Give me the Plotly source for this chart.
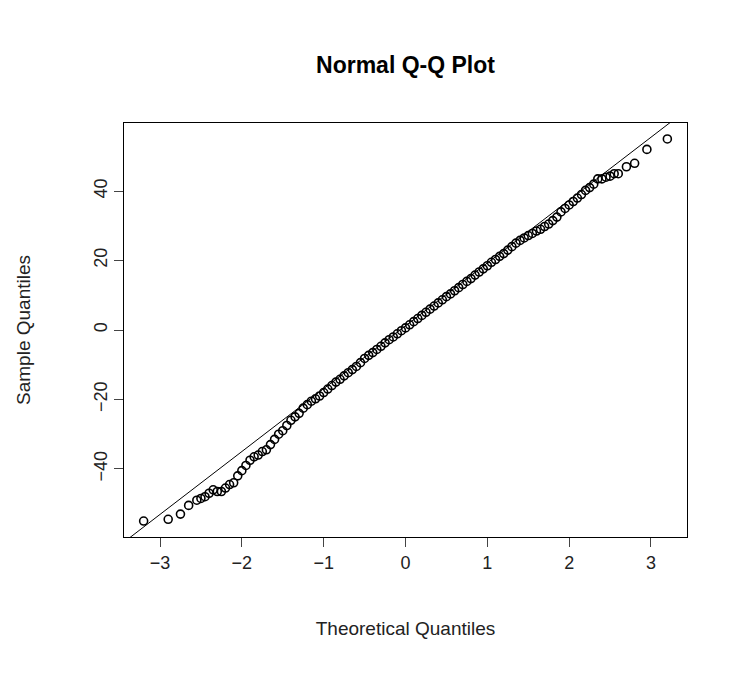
import plotly.graph_objects as go

theoretical = [-3.2, -2.9, -2.75, -2.65, -2.55, -2.5, -2.45, -2.4, -2.35, -2.3, -2.25, -2.2, -2.15, -2.1,
               -2.05, -2.0, -1.95, -1.9, -1.85, -1.8, -1.75, -1.7, -1.65, -1.6, -1.55, -1.5, -1.45, -1.4,
               -1.35, -1.3, -1.25, -1.2, -1.15, -1.1, -1.05, -1.0, -0.95, -0.9, -0.85, -0.8, -0.75, -0.7,
               -0.65, -0.6, -0.55, -0.5, -0.45, -0.4, -0.35, -0.3, -0.25, -0.2, -0.15, -0.1, -0.05, 0.0,
               0.05, 0.1, 0.15, 0.2, 0.25, 0.3, 0.35, 0.4, 0.45, 0.5, 0.55, 0.6, 0.65, 0.7, 0.75, 0.8,
               0.85, 0.9, 0.95, 1.0, 1.05, 1.1, 1.15, 1.2, 1.25, 1.3, 1.35, 1.4, 1.45, 1.5, 1.55, 1.6,
               1.65, 1.7, 1.75, 1.8, 1.85, 1.9, 1.95, 2.0, 2.05, 2.1, 2.15, 2.2, 2.25, 2.3, 2.35, 2.4,
               2.45, 2.5, 2.55, 2.6, 2.7, 2.8, 2.95, 3.2]
sample = [-55, -54.5, -53, -50.5, -49, -48.5, -48, -47, -46, -46.5, -46.5, -45.5, -44.5, -44,
          -42, -40.5, -39, -37.5, -36.5, -36, -35, -34.5, -33, -31.5, -30, -29, -27.5, -26,
          -25, -24, -22.5, -21.5, -20.5, -19.8, -19, -18, -17, -16, -15, -14.2, -13.2, -12.3,
          -11.4, -10.5, -9.4, -8.2, -7.3, -6.5, -5.6, -4.7, -3.7, -2.8, -2.0, -1.1, -0.2, 0.6,
          1.5, 2.4, 3.3, 4.2, 5.1, 6.0, 6.9, 7.8, 8.7, 9.6, 10.4, 11.3, 12.2, 13.1, 14.0, 14.8,
          15.8, 16.7, 17.6, 18.5, 19.5, 20.3, 21.2, 22.0, 23.0, 24.0, 25.0, 25.8, 26.5, 27.2, 27.8, 28.5,
          29.0, 29.8, 30.5, 31.5, 32.5, 34.0, 35.0, 36.0, 37.0, 38.0, 39.0, 40.2, 41.0, 42.0, 43.5, 43.5,
          44.0, 44.3, 45.0, 45.0, 47.0, 48.0, 52.0, 55.0]

line_intercept = 1.2
line_slope = 18.1
x_range = [-3.44, 3.44]
y_range = [-59.6, 59.6]

fig = go.Figure()
fig.add_trace(go.Scatter(x=theoretical, y=sample, mode="markers",
                         marker=dict(symbol="circle-open", size=8, color="black", line=dict(width=1.6)),
                         showlegend=False))
lx = [x_range[0], x_range[1]]
fig.add_trace(go.Scatter(x=lx, y=[line_intercept + line_slope * v for v in lx], mode="lines",
                         line=dict(color="black", width=1), showlegend=False))

fig.update_layout(
    width=750, height=689, plot_bgcolor="white", paper_bgcolor="white",
    margin=dict(l=116, r=71, t=115, b=160),
    font=dict(family="Liberation Sans, Arial", color="#222"),
    title=dict(text="<b>Normal Q-Q Plot</b>", x=0.5, xref="paper", y=1 - 57 / 689, yanchor="middle",
               font=dict(size=23, color="black")),
)
fig.update_xaxes(range=x_range, tickvals=[-3, -2, -1, 0, 1, 2, 3], ticks="outside", ticklen=9,
                 showgrid=False, zeroline=False, showline=True, linecolor="black", mirror=True,
                 tickfont=dict(size=18), title=dict(text="Theoretical Quantiles", font=dict(size=19), standoff=50))
fig.update_yaxes(range=y_range, tickvals=[-40, -20, 0, 20, 40], ticks="outside", ticklen=9, tickangle=-90,
                 showgrid=False, zeroline=False, showline=True, linecolor="black", mirror=True,
                 tickfont=dict(size=18), title=dict(text="Sample Quantiles", font=dict(size=19), standoff=55))
fig.write_html("out.html")
